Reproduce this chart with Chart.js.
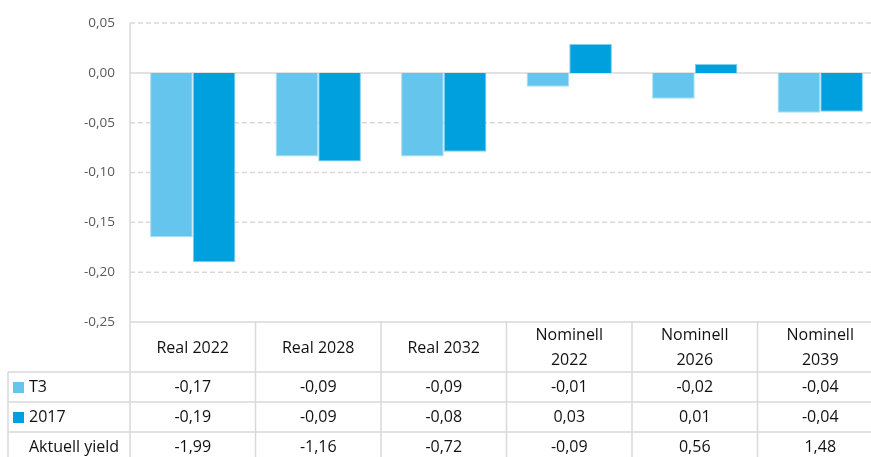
<!DOCTYPE html>
<html>
<head>
<meta charset="utf-8">
<script src="https://cdn.jsdelivr.net/npm/chart.js@4/dist/chart.umd.min.js"></script>
<style>
  html, body { margin: 0; padding: 0; background: #fff; overflow: hidden; }
  #wrap { width: 884px; height: 457px; }
</style>
</head>
<body>
<div id="wrap"><canvas id="myChart"></canvas></div>
<script>
// kategorier (två rader i tabellhuvudet för nominella)
const kategorier = [["Real 2022"], ["Real 2028"], ["Real 2032"], ["Nominell", "2022"], ["Nominell", "2026"], ["Nominell", "2039"]];
// staplar
const t3 = [-0.165, -0.084, -0.084, -0.014, -0.026, -0.040];
const v2017 = [-0.190, -0.089, -0.079, 0.029, 0.009, -0.039];
// tabellrader som de står i tabellen
const t3Text = ["-0,17", "-0,09", "-0,09", "-0,01", "-0,02", "-0,04"];
const text2017 = ["-0,19", "-0,09", "-0,08", "0,03", "0,01", "-0,04"];
const yieldText = ["-1,99", "-1,16", "-0,72", "-0,09", "0,56", "1,48"];

const farger = ["#65c5ed", "#00a0df"];
const linje = "#d9d9d9";
const typsnitt = "'Open Sans', 'Noto Sans', sans-serif";

// ritar datatabellen under diagrammet med x-skalans kolumner
const tabellPlugin = {
  id: "tabell",
  afterDraw(chart) {
    const ctx = chart.ctx;
    const x = chart.scales.x;
    const area = chart.chartArea;
    const topp = area.bottom;
    const rader = [topp + 50, topp + 80, topp + 110, topp + 140];
    const kolBredd = (area.right - area.left) / kategorier.length;
    const vanster = 8;
    ctx.save();
    ctx.strokeStyle = linje;
    ctx.lineWidth = 1.5;
    // vågräta linjer
    ctx.beginPath();
    ctx.moveTo(area.left, topp);
    ctx.lineTo(area.right, topp);
    for (let i = 0; i < 3; i++) {
      ctx.moveTo(vanster, rader[i]);
      ctx.lineTo(area.right, rader[i]);
    }
    // lodräta linjer
    ctx.moveTo(area.left, area.top);
    ctx.lineTo(area.left, chart.height);
    ctx.moveTo(vanster, rader[0]);
    ctx.lineTo(vanster, chart.height);
    for (let i = 1; i <= kategorier.length; i++) {
      const xx = area.left + i * kolBredd;
      ctx.moveTo(xx, topp);
      ctx.lineTo(xx, chart.height);
    }
    ctx.stroke();

    ctx.fillStyle = "#111";
    ctx.font = "16px " + typsnitt;
    ctx.textAlign = "center";
    ctx.textBaseline = "middle";
    kategorier.forEach((kat, i) => {
      const cx = x.getPixelForValue(i);
      if (kat.length === 1) {
        ctx.fillText(kat[0], cx, topp + 26);
      } else {
        ctx.fillText(kat[0], cx, topp + 13);
        ctx.fillText(kat[1], cx, topp + 38);
      }
      ctx.fillText(t3Text[i], cx, rader[0] + 15);
      ctx.fillText(text2017[i], cx, rader[1] + 15);
      ctx.fillText(yieldText[i], cx, rader[2] + 15);
    });

    // radetiketter med färgrutor
    ctx.textAlign = "left";
    ctx.fillStyle = farger[0];
    ctx.fillRect(13, rader[0] + 10, 11, 11);
    ctx.fillStyle = farger[1];
    ctx.fillRect(13, rader[1] + 10, 11, 11);
    ctx.fillStyle = "#111";
    ctx.fillText("T3", 29, rader[0] + 15);
    ctx.fillText("2017", 29, rader[1] + 15);
    ctx.fillText("Aktuell yield", 29, rader[2] + 15);
    ctx.restore();
  }
};

const graf = new Chart(document.querySelector("#myChart"), {
  type: "bar",
  data: {
    labels: kategorier.map((k) => k.join(" ")),
    datasets: [
      {
        label: "T3",
        data: t3,
        backgroundColor: farger[0],
        borderColor: "#a9def5",
        borderWidth: 1,
        barPercentage: 1,
        categoryPercentage: 0.68,
      },
      {
        label: "2017",
        data: v2017,
        backgroundColor: farger[1],
        borderColor: "#7fd0f0",
        borderWidth: 1,
        barPercentage: 1,
        categoryPercentage: 0.68,
      },
    ],
  },
  options: {
    responsive: true,
    maintainAspectRatio: false,
    animation: false,
    layout: { padding: { top: 15, bottom: 127, left: 0, right: 1 } },
    plugins: {
      legend: { display: false },
      tooltip: { enabled: false },
    },
    scales: {
      x: {
        grid: { display: false },
        border: { display: false },
        ticks: { display: false },
      },
      y: {
        min: -0.25,
        max: 0.05,
        afterFit: (scale) => { scale.width = 130; },
        ticks: {
          stepSize: 0.05,
          padding: 15,
          color: "#595959",
          font: { family: typsnitt, size: 13.5 },
          callback: (v) => v.toFixed(2).replace(".", ",").replace("-0,00", "0,00"),
        },
        border: { display: false },
        grid: { display: false, drawTicks: false },
      },
    },
  },
  plugins: [
    tabellPlugin,
    {
      id: "streckat",
      // streckade stödlinjer, heldragen nolla, botten ritas av tabellen
      beforeDraw(chart) {
        const y = chart.scales.y;
        const ctx = chart.ctx;
        const a = chart.chartArea;
        ctx.save();
        ctx.lineWidth = 1.5;
        ctx.strokeStyle = linje;
        y.ticks.forEach((t) => {
          const py = y.getPixelForValue(t.value);
          if (Math.abs(t.value + 0.25) < 1e-9) return;
          ctx.setLineDash(Math.abs(t.value) < 1e-9 ? [] : [5, 3]);
          ctx.beginPath();
          ctx.moveTo(a.left, py);
          ctx.lineTo(a.right, py);
          ctx.stroke();
        });
        ctx.restore();
      },
    },
  ],
});
</script>
</body>
</html>
